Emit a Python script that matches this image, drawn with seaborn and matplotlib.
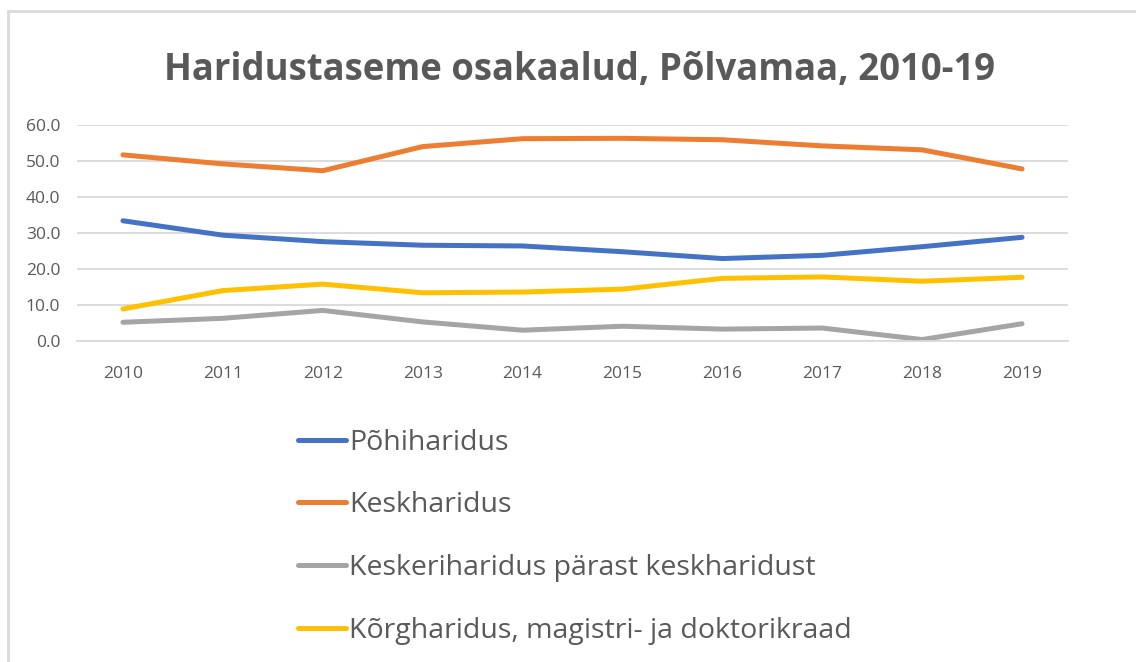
import matplotlib
matplotlib.use("Agg")
import matplotlib.pyplot as plt
import pandas as pd
import seaborn as sns
from matplotlib.lines import Line2D

# andmed (loetud pildilt)
aastad = [2010, 2011, 2012, 2013, 2014, 2015, 2016, 2017, 2018, 2019]
pohiharidus = [33.4, 29.4, 27.6, 26.6, 26.4, 24.8, 22.9, 23.8, 26.2, 28.8]
keskharidus = [51.7, 49.2, 47.3, 54.0, 56.2, 56.3, 55.9, 54.2, 53.1, 47.8]
keskeri = [5.2, 6.3, 8.5, 5.3, 3.0, 4.1, 3.3, 3.6, 0.4, 4.8]
korg = [8.9, 14.0, 15.8, 13.4, 13.6, 14.4, 17.4, 17.8, 16.6, 17.7]

seeriad = ["Põhiharidus", "Keskharidus",
           "Keskeriharidus pärast keskharidust",
           "Kõrgharidus, magistri- ja doktorikraad"]
varvid = ["#4472C4", "#ED7D31", "#A5A5A5", "#FFC000"]

df = pd.DataFrame({"Aasta": [str(a) for a in aastad],
                   seeriad[0]: pohiharidus, seeriad[1]: keskharidus,
                   seeriad[2]: keskeri, seeriad[3]: korg})
df_long = df.melt(id_vars="Aasta", var_name="Haridus", value_name="Osakaal")

sns.set_style("white")
plt.rcParams["font.family"] = ["Open Sans", "DejaVu Sans"]

W, H = 1136, 662
fig = plt.figure(figsize=(W / 100, H / 100), dpi=100)
ax = fig.add_axes([77 / W, 1 - 341 / H, (1068 - 77) / W, (341 - 125) / H])

sns.lineplot(data=df_long, x="Aasta", y="Osakaal", hue="Haridus",
             hue_order=seeriad, palette=varvid, linewidth=3.6,
             sort=False, legend=False, ax=ax)

ax.set_xlim(-0.46, 9.46)
ax.set_ylim(0, 60)
ax.set_yticks(range(0, 61, 10))
ax.set_yticklabels([f"{v:.1f}" for v in range(0, 61, 10)])
ax.yaxis.grid(True, color="#D9D9D9", linewidth=1.3)
ax.set_axisbelow(True)
for s in ["top", "right", "left"]:
    ax.spines[s].set_visible(False)
ax.spines["bottom"].set_color("#D9D9D9")
ax.spines["bottom"].set_linewidth(1.3)
ax.tick_params(axis="both", length=0, labelsize=12.5, colors="#595959")
ax.tick_params(axis="y", pad=12)
ax.tick_params(axis="x", pad=18)
ax.set_xlabel("")
ax.set_ylabel("")

fig.text(579 / W, 1 - 70 / H, "Haridustaseme osakaalud, Põlvamaa, 2010-19",
         ha="center", va="center", fontsize=26.3, fontweight="bold",
         color="#595959")

# legend
handles = [Line2D([], [], color=c, linewidth=3.6) for c in varvid]
fig.legend(handles, seeriad, loc="upper left",
           bbox_to_anchor=(272 / W, 1 - 403 / H), frameon=False,
           fontsize=20.5, labelcolor="#595959", handlelength=1.7,
           handletextpad=0.1, labelspacing=1.22)

# raam
fig.add_artist(plt.Rectangle((8 / W, -0.05), 1.1, 1 - 11 / H + 0.05,
                             transform=fig.transFigure, fill=False,
                             edgecolor="#D9D9D9", linewidth=2))

fig.savefig("out.png", dpi=100, facecolor="white")
